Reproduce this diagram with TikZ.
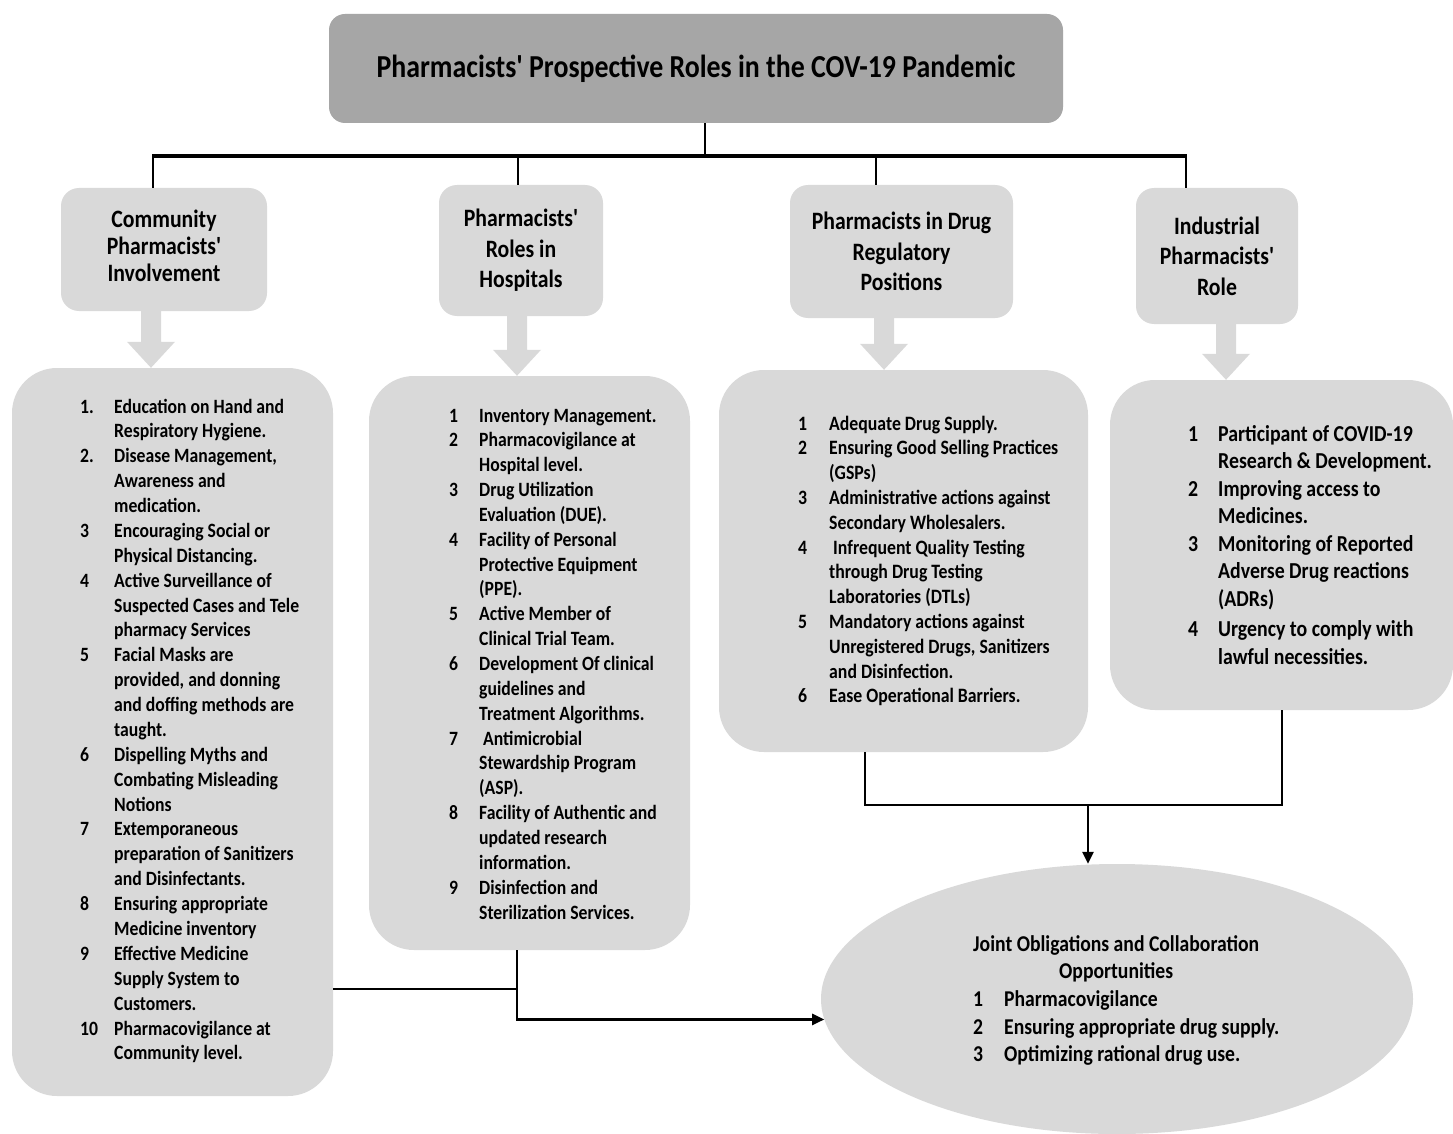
\documentclass[tikz,border=0pt]{standalone}
\usepackage{fontspec}
\setmainfont{Carlito}[FakeStretch=0.87]
\newfontfamily\apfont{Carlito}[FakeStretch=0.87, Ligatures=TeXOff]
\usetikzlibrary{shapes.geometric,arrows.meta,calc}
\definecolor{boxgray}{HTML}{D9D9D9}
\definecolor{titlegray}{HTML}{A6A6A6}
\newlength\jw
\newcommand\ap{{\apfont\bfseries\char39}}
\newcommand\myblockarrow[3]{%
  \path (#2.south -| #1,0) coordinate (ba-t) (#3.north -| #1,0) coordinate (ba-b);
  \fill[boxgray] ($(ba-t)+(-10,0)$) -- ($(ba-t)+(10,0)$) -- ($(ba-b)+(10,-26)$) -- ($(ba-b)+(24,-26)$) -- (ba-b) -- ($(ba-b)+(-24,-26)$) -- ($(ba-b)+(-10,-26)$) -- cycle;}
\tikzset{
  titlebox/.style={fill=titlegray, rounded corners=16pt, inner sep=0pt, font=\fontsize{32}{38}\selectfont\bfseries},
  hdr/.style={fill=boxgray, rounded corners=18pt, inner sep=0pt, align=center, font=\fontsize{25}{30.5}\selectfont\bfseries},
  lst/.style={fill=boxgray, rounded corners=45pt, inner sep=0pt},
  txt/.style={anchor=base west, inner sep=0pt},
  conn/.style={line width=2.5pt, black},
  drop/.style={line width=2pt, black},
  arr/.style={line width=2.5pt, black, -{Triangle[length=12pt,width=11pt]}},
}
\begin{document}
\begin{tikzpicture}[x=1pt,y=-1pt]
\useasboundingbox (0,0) rectangle (1453,1134);
\fill[white] (0,0) rectangle (1453,1134);

% title and headers
\node[titlebox, minimum width=734pt, minimum height=109pt] (title) at (696,68.5) {Pharmacists\ap{} Prospective Roles in the COV-19 Pandemic};
\node[hdr, font=\fontsize{25}{27}\selectfont\bfseries, minimum width=206pt, minimum height=123pt] (h1) at (164,249.5) {\raisebox{6pt}{\begin{tabular}{@{}c@{}}Community\\Pharmacists\ap\\Involvement\end{tabular}}};
\node[hdr, minimum width=164pt, minimum height=131pt] (h2) at (521,250.5) {Pharmacists\ap\\Roles in\\Hospitals};
\node[hdr, minimum width=223pt, minimum height=133pt] (h3) at (901.5,251.5) {Pharmacists in Drug\\Regulatory\\Positions};
\node[hdr, minimum width=162pt, minimum height=136pt] (h4) at (1217,256) {Industrial\\Pharmacists\ap\\Role};

% list boxes
\node[lst, minimum width=321pt, minimum height=728pt] (l1) at (172.5,732) {};
\node[lst, minimum width=321pt, minimum height=574pt] (l2) at (529.5,663) {};
\node[lst, minimum width=369pt, minimum height=382pt] (l3) at (903.5,561) {};
\node[lst, minimum width=343pt, minimum height=330pt] (l4) at (1281.5,545) {};
\node[ellipse, fill=boxgray, inner sep=0pt, minimum width=592pt, minimum height=270pt] (ell) at (1117,999) {};

% block arrows
\myblockarrow{151}{h1}{l1}
\myblockarrow{517}{h2}{l2}
\myblockarrow{884}{h3}{l3}
\myblockarrow{1226}{h4}{l4}

% top connectors
\coordinate (bus) at (705,156);
\coordinate (busL) at (152,156);
\coordinate (busR) at (1187,156);
\draw[conn] (title.south -| bus) -- (bus);
\draw[line width=3.5pt] (busL) -- (busR);
\draw[drop] (153,156) -- (h1.north -| 153,0);
\draw[drop] (518,156) -- (h2.north -| 518,0);
\draw[drop] (876,156) -- (h3.north -| 876,0);
\draw[drop] (1186,156) -- (h4.north -| 1186,0);

% bottom connectors
\coordinate (jl) at (865,805);
\coordinate (jr) at (1282,805);
\coordinate (j) at (1088,805);
\draw[conn] (l3.south -| jl) -- (jl) -- (jr) -- (l4.south -| jr);
\draw[arr] (j) -- (j |- ell.north);
\coordinate (k) at (517,989);
\draw[conn] (l1.east |- k) -- (k);
\draw[arr] (l2.south -| k) |- (ell.184);

% list texts
\node[txt, font=\fontsize{20.3}{24.88}\selectfont\bfseries] (t1) at (80,413) {%
\begin{tabular}[t]{@{}p{34pt}@{}l@{}}
1. & Education on Hand and\\
   & Respiratory Hygiene.\\
2. & Disease Management,\\
   & Awareness and\\
   & medication.\\
3  & Encouraging Social or\\
   & Physical Distancing.\\
4  & Active Surveillance of\\
   & Suspected Cases and Tele\\
   & pharmacy Services\\
5  & Facial Masks are\\
   & provided, and donning\\
   & and doffing methods are\\
   & taught.\\
6  & Dispelling Myths and\\
   & Combating Misleading\\
   & Notions\\
7  & Extemporaneous\\
   & preparation of Sanitizers\\
   & and Disinfectants.\\
8  & Ensuring appropriate\\
   & Medicine inventory\\
9  & Effective Medicine\\
   & Supply System to\\
   & Customers.\\
10 & Pharmacovigilance at\\
   & Community level.
\end{tabular}};

\node[txt, font=\fontsize{20.3}{24.85}\selectfont\bfseries] (t2) at (449,422) {%
\begin{tabular}[t]{@{}p{30pt}@{}l@{}}
1 & Inventory Management.\\
2 & Pharmacovigilance at\\
  & Hospital level.\\
3 & Drug Utilization\\
  & Evaluation (DUE).\\
4 & Facility of Personal\\
  & Protective Equipment\\
  & (PPE).\\
5 & Active Member of\\
  & Clinical Trial Team.\\
6 & Development Of clinical\\
  & guidelines and\\
  & Treatment Algorithms.\\
7 & \ Antimicrobial\\
  & Stewardship Program\\
  & (ASP).\\
8 & Facility of Authentic and\\
  & updated research\\
  & information.\\
9 & Disinfection and\\
  & Sterilization Services.
\end{tabular}};

\node[txt, font=\fontsize{20.4}{24.8}\selectfont\bfseries] (t3) at (798,430) {%
\begin{tabular}[t]{@{}p{31pt}@{}l@{}}
1 & Adequate Drug Supply.\\
2 & Ensuring Good Selling Practices\\
  & (GSPs)\\
3 & Administrative actions against\\
  & Secondary Wholesalers.\\
4 & \ Infrequent Quality Testing\\
  & through Drug Testing\\
  & Laboratories (DTLs)\\
5 & Mandatory actions against\\
  & Unregistered Drugs, Sanitizers\\
  & and Disinfection.\\
6 & Ease Operational Barriers.
\end{tabular}};

\node[txt, font=\fontsize{22.8}{27.5}\selectfont\bfseries] (t4) at (1188,441) {%
\begin{tabular}[t]{@{}p{30pt}@{}l@{}}
1 & Participant of COVID-19\\
  & Research \& Development.\\
2 & Improving access to\\
  & Medicines.\\
3 & Monitoring of Reported\\
  & Adverse Drug reactions\\
  & (ADRs)\\[3pt]
4 & Urgency to comply with\\
  & lawful necessities.
\end{tabular}};

\node[txt, font=\fontsize{22.6}{27.7}\selectfont\bfseries] (t5) at (973,951) {%
\settowidth{\jw}{Joint Obligations and Collaboration}%
\begin{tabular}[t]{@{}p{31pt}@{}l@{}}
\multicolumn{2}{@{}l@{}}{Joint Obligations and Collaboration}\\
\multicolumn{2}{@{}l@{}}{\makebox[\jw][c]{Opportunities}}\\
1 & Pharmacovigilance\\
2 & Ensuring appropriate drug supply.\\
3 & Optimizing rational drug use.
\end{tabular}};
\end{tikzpicture}
\end{document}
